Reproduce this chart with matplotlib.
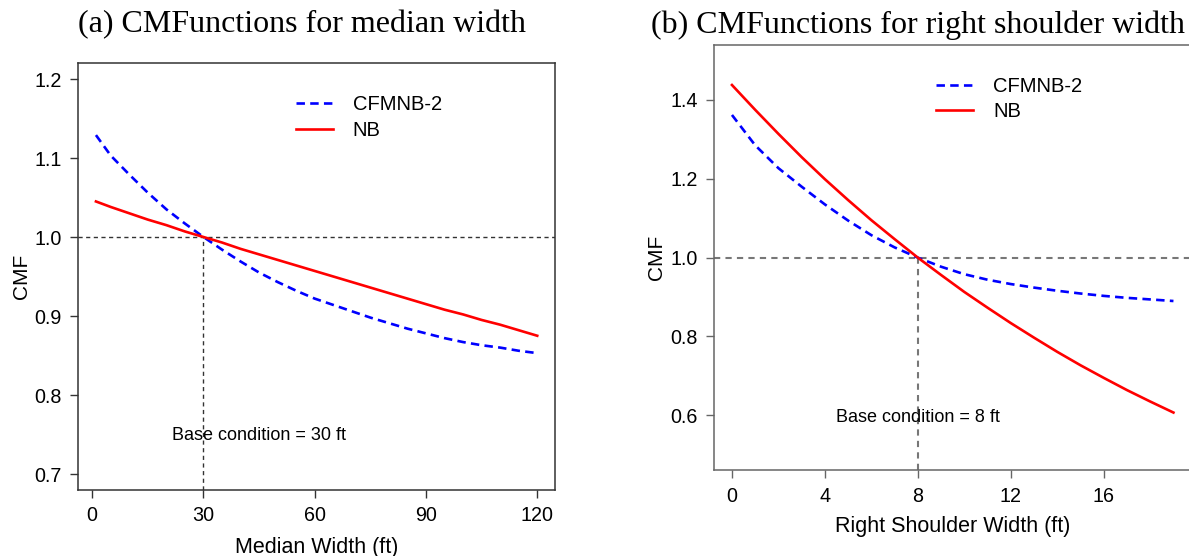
import matplotlib
matplotlib.use("Agg")
import matplotlib.pyplot as plt

# ---------------- data ----------------
median_x = [1, 5, 10, 15, 20, 25, 30, 35, 40, 45, 50, 55, 60, 65, 70, 75, 80,
            85, 90, 95, 100, 105, 110, 115, 120]
median_cfmnb = [1.129, 1.103, 1.079, 1.056, 1.035, 1.017, 1.000, 0.984, 0.969,
                0.955, 0.943, 0.932, 0.922, 0.914, 0.906, 0.898, 0.891, 0.884,
                0.878, 0.872, 0.867, 0.863, 0.860, 0.856, 0.853]
median_nb = [1.045, 1.038, 1.030, 1.022, 1.015, 1.007, 1.000, 0.993, 0.985,
             0.978, 0.971, 0.964, 0.957, 0.950, 0.943, 0.936, 0.929, 0.922,
             0.915, 0.908, 0.902, 0.895, 0.889, 0.882, 0.875]

shoulder_x = list(range(0, 20))
shoulder_cfmnb = [1.362, 1.285, 1.227, 1.180, 1.135, 1.094, 1.057, 1.026, 1.000,
                  0.977, 0.958, 0.944, 0.933, 0.924, 0.916, 0.909, 0.903, 0.898,
                  0.894, 0.890]
shoulder_nb = [1.438, 1.375, 1.314, 1.255, 1.199, 1.146, 1.095, 1.047, 1.000,
               0.956, 0.913, 0.873, 0.834, 0.797, 0.761, 0.727, 0.695, 0.664,
               0.635, 0.607]

median_xticks = [0, 30, 60, 90, 120]
median_yticks = [0.7, 0.8, 0.9, 1.0, 1.1, 1.2]
shoulder_xticks = [0, 4, 8, 12, 16]
shoulder_yticks = [0.6, 0.8, 1.0, 1.2, 1.4]

series_labels = ["CFMNB-2", "NB"]
titles = ["(a) CMFunctions for median width",
          "(b) CMFunctions for right shoulder width"]
xlabels = ["Median Width (ft)", "Right Shoulder Width (ft)"]
base_texts = ["Base condition = 30 ft", "Base condition = 8 ft"]
base_values = [30, 8]

# ---------------- figure ----------------
W, H = 1189, 556
fig = plt.figure(figsize=(W / 100, H / 100), dpi=100)
sans = "Liberation Sans"
serif = "Liberation Serif"

ax1 = fig.add_axes([0.06585, 0.11906, 0.40084, 0.76727])
ax2 = fig.add_axes([0.60076, 0.15378, 0.40101, 0.76565])

configs = [
    dict(ax=ax1, x=median_x, c=median_cfmnb, n=median_nb,
         xlim=(-3.76, 124.76), ylim=(0.68, 1.22),
         xt=median_xticks, yt=median_yticks, ytfmt="{:.1f}",
         refcol="#333333", reflw=1.0, spinecol="#333333",
         text_xy=(45, 0.749), leg_anchor=(0.4576, 0.925),
         ylab_x=-0.099, xlab_y=-0.110, title_x=0.254),
    dict(ax=ax2, x=shoulder_x, c=shoulder_cfmnb, n=shoulder_nb,
         xlim=(-0.76, 19.76), ylim=(0.46, 1.54),
         xt=shoulder_xticks, yt=shoulder_yticks, ytfmt="{:.1f}",
         refcol="#777777", reflw=1.5, spinecol="#666666",
         text_xy=(8, 0.595), leg_anchor=(0.466, 0.925),
         ylab_x=-0.1006, xlab_y=-0.106, title_x=0.7717),
]

for i, cfg in enumerate(configs):
    ax = cfg["ax"]
    ax.set_xlim(*cfg["xlim"])
    ax.set_ylim(*cfg["ylim"])
    # reference lines
    ax.axhline(1.0, color=cfg["refcol"], lw=cfg["reflw"], dashes=(3.0, 2.5),
               zorder=1)
    ax.plot([base_values[i], base_values[i]], [cfg["ylim"][0], 1.0],
            color=cfg["refcol"], lw=cfg["reflw"], dashes=(3.0, 2.5), zorder=1,
            clip_on=False)
    # curves
    ax.plot(cfg["x"], cfg["c"], color="#0000FF", lw=1.9, dashes=(3.2, 2.0),
            label=series_labels[0], zorder=3)
    ax.plot(cfg["x"], cfg["n"], color="#FF0000", lw=1.9,
            label=series_labels[1], zorder=3)
    # text
    ax.text(cfg["text_xy"][0], cfg["text_xy"][1], base_texts[i],
            ha="center", va="center", fontsize=13, family=sans)
    # ticks
    ax.set_xticks(cfg["xt"])
    ax.set_xticklabels([str(v) for v in cfg["xt"]])
    ax.set_yticks(cfg["yt"])
    ax.set_yticklabels([cfg["ytfmt"].format(v) for v in cfg["yt"]])
    ax.tick_params(direction="out", length=6, width=1.0, color=cfg["spinecol"],
                   labelsize=14.2, pad=6)
    for lab in ax.get_xticklabels() + ax.get_yticklabels():
        lab.set_family(sans)
    for sp in ax.spines.values():
        sp.set_color(cfg["spinecol"])
        sp.set_linewidth(1.1)
    # labels
    ax.set_ylabel("CMF", fontsize=15, family=sans)
    ax.yaxis.set_label_coords(cfg["ylab_x"], 0.5)
    ax.set_xlabel(xlabels[i], fontsize=15.5, family=sans)
    ax.xaxis.set_label_coords(0.5, cfg["xlab_y"])
    # legend
    ax.legend(loc="upper left", bbox_to_anchor=cfg["leg_anchor"],
              frameon=False, handlelength=1.8,
              handletextpad=1.0, labelspacing=0.32, borderpad=0,
              borderaxespad=0, prop={"family": sans, "size": 14.5})
    # title
    fig.text(cfg["title_x"], 0.955, titles[i], ha="center", va="center",
             fontsize=23, family=serif)

fig.savefig("out.png", dpi=100)
